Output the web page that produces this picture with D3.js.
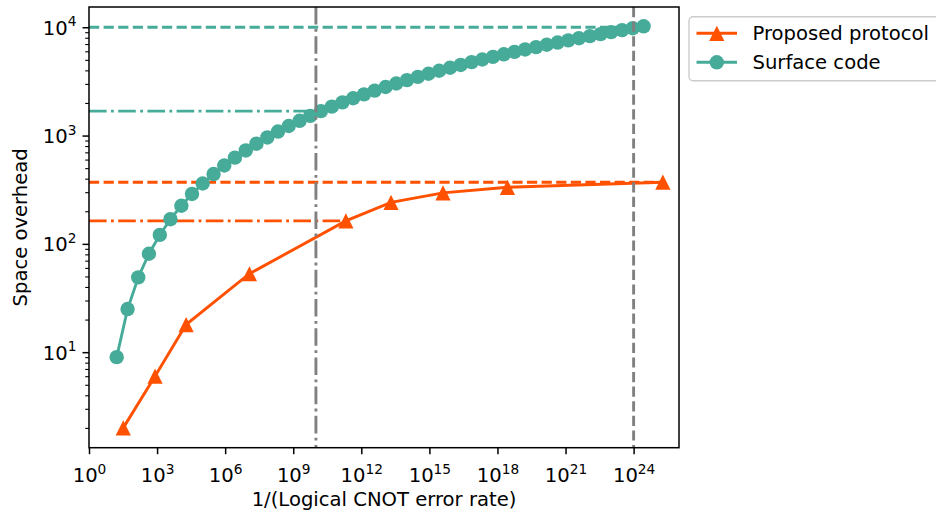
<!DOCTYPE html>
<html>
<head>
<meta charset="utf-8">
<script src="https://cdn.jsdelivr.net/npm/d3@7"></script>
<style>
  body { margin: 0; background: #fff; }
  text { font-family: "DejaVu Sans", sans-serif; fill: #000; }
</style>
</head>
<body>
<div id="chart"></div>
<script>
'use strict';

// series data (x stored as log10 of 1/(logical CNOT error rate))
const proposedLog10X = [1.51, 2.91, 4.28, 7.07, 11.32, 13.31, 15.60, 18.44, 25.29];
const proposedY = [2, 6, 18, 53, 163, 242, 296, 333, 371];

const surfaceLog10X = [
    1.22, 1.70, 2.17, 2.64, 3.12, 3.59, 4.07, 4.54, 5.01, 5.49,
    5.96, 6.43, 6.91, 7.38, 7.86, 8.33, 8.80, 9.28, 9.75, 10.22,
    10.70, 11.17, 11.64, 12.12, 12.59, 13.07, 13.54, 14.01, 14.49, 14.96,
    15.43, 15.91, 16.38, 16.86, 17.33, 17.80, 18.28, 18.75, 19.22, 19.70,
    20.17, 20.65, 21.12, 21.59, 22.07, 22.54, 23.01, 23.49, 23.96, 24.44
];
const surfaceY = [
    9, 25, 49, 81, 121, 169, 225, 289, 361, 441,
    529, 625, 729, 841, 961, 1089, 1225, 1369, 1521, 1681,
    1849, 2025, 2209, 2401, 2601, 2809, 3025, 3249, 3481, 3721,
    3969, 4225, 4489, 4761, 5041, 5329, 5625, 5929, 6241, 6561,
    6889, 7225, 7569, 7921, 8281, 8649, 9025, 9409, 9801, 10201
];

// reference lines: [y, log10 of x end, style]
const hLinesProposed = [[371, 25.29, 'dash'], [163, 11.32, 'dashdot']];
const hLinesSurface = [[10000, 24.44, 'dash'], [1681, 10, 'dashdot']];
const vLinesLog10 = [[10, 'dashdot'], [24, 'dash']];

const xTickExps = [0, 3, 6, 9, 12, 15, 18, 21, 24];
const yTickExps = [1, 2, 3, 4];

const seriesNames = ['Proposed protocol', 'Surface code'];
const colors = { proposed: '#ff5100', surface: '#46ab99', ref: '#808080' };

const width = 936, height = 513;
const margin = { left: 89, right: 257, top: 7, bottom: 65.3 };
const plotW = width - margin.left - margin.right;
const plotH = height - margin.top - margin.bottom;
const fontSize = 19.6;
const dashes = { dash: '10.2,4.4', dashdot: '17.6,4.4,2.8,4.4' };

const x = d3.scaleLog().domain([1, 1e26]).range([0, plotW]);
const y = d3.scaleLog().domain([Math.pow(10, 0.118), Math.pow(10, 4.187)]).range([plotH, 0]);

const svg = d3.select('#chart').append('svg')
    .attr('width', width)
    .attr('height', height)
    .style('display', 'block');

const g = svg.append('g')
    .attr('transform', `translate(${margin.left}, ${margin.top})`);

// clip
g.append('defs').append('clipPath')
    .attr('id', 'clip')
  .append('rect')
    .attr('width', plotW)
    .attr('height', plotH);

const inner = g.append('g').attr('clip-path', 'url(#clip)');

// horizontal reference lines
function hline(spec, color) {
    inner.append('line')
        .attr('x1', x(1))
        .attr('x2', x(Math.pow(10, spec[1])))
        .attr('y1', y(spec[0]))
        .attr('y2', y(spec[0]))
        .attr('stroke', color)
        .attr('stroke-width', 2.9)
        .attr('stroke-dasharray', dashes[spec[2]]);
}
hLinesProposed.forEach(s => hline(s, colors.proposed));
hLinesSurface.forEach(s => hline(s, colors.surface));

const toPts = (xs, ys) => xs.map((e, i) => [Math.pow(10, e), ys[i]]);
const proposedPts = toPts(proposedLog10X, proposedY);
const surfacePts = toPts(surfaceLog10X, surfaceY);

const line = d3.line().x(d => x(d[0])).y(d => y(d[1]));

// matplotlib-style '^' marker (as wide as it is tall)
const triPath = 'M0,-7.6L7.6,7.6L-7.6,7.6Z';
const circleR = 7.2;

// surface code series
inner.append('path')
    .datum(surfacePts)
    .attr('d', line)
    .attr('fill', 'none')
    .attr('stroke', colors.surface)
    .attr('stroke-width', 2.9);
inner.selectAll('circle.surface')
    .data(surfacePts)
  .enter().append('circle')
    .attr('class', 'surface')
    .attr('cx', d => x(d[0]))
    .attr('cy', d => y(d[1]))
    .attr('r', circleR)
    .attr('fill', colors.surface);

// proposed protocol series
inner.append('path')
    .datum(proposedPts)
    .attr('d', line)
    .attr('fill', 'none')
    .attr('stroke', colors.proposed)
    .attr('stroke-width', 2.9);
inner.selectAll('path.tri')
    .data(proposedPts)
  .enter().append('path')
    .attr('class', 'tri')
    .attr('d', triPath)
    .attr('transform', d => `translate(${x(d[0])}, ${y(d[1])})`)
    .attr('fill', colors.proposed);

// vertical reference lines
vLinesLog10.forEach(v => {
    inner.append('line')
        .attr('x1', x(Math.pow(10, v[0])))
        .attr('x2', x(Math.pow(10, v[0])))
        .attr('y1', 0)
        .attr('y2', plotH)
        .attr('stroke', colors.ref)
        .attr('stroke-width', 2.9)
        .attr('stroke-dasharray', dashes[v[1]]);
});

// x-axis
const xAxis = g.append('g')
    .attr('transform', `translate(0, ${plotH})`)
    .call(d3.axisBottom(x)
        .tickValues(xTickExps.map(e => Math.pow(10, e)))
        .tickSize(6.5)
        .tickPadding(6)
        .tickFormat(() => ''));
xAxis.select('.domain').remove();
xAxis.selectAll('.tick line').attr('stroke-width', 1.5);
xAxis.selectAll('.tick text')
    .data(xTickExps)
    .attr('font-size', fontSize)
    .attr('dy', '1.12em')
    .each(function(e) {
        const t = d3.select(this);
        t.append('tspan').text('10');
        t.append('tspan').attr('font-size', fontSize * 0.7).attr('dy', '-0.62em').text(e);
    });

// y-axis (major + minor)
const yMinor = [];
for (let k = 0; k <= 3; k++) for (let m = 2; m <= 9; m++) yMinor.push(m * Math.pow(10, k));
const yMinorAxis = g.append('g')
    .call(d3.axisLeft(y).tickValues(yMinor).tickSize(3.8).tickFormat(() => ''));
yMinorAxis.select('.domain').remove();
yMinorAxis.selectAll('.tick line').attr('stroke-width', 1.1);

const yAxis = g.append('g')
    .call(d3.axisLeft(y)
        .tickValues(yTickExps.map(e => Math.pow(10, e)))
        .tickSize(6.5)
        .tickPadding(6)
        .tickFormat(() => ''));
yAxis.select('.domain').remove();
yAxis.selectAll('.tick line').attr('stroke-width', 1.5);
yAxis.selectAll('.tick text')
    .data(yTickExps)
    .attr('font-size', fontSize)
    .attr('dy', '0.36em')
    .each(function(e) {
        const t = d3.select(this);
        t.append('tspan').text('10');
        t.append('tspan').attr('font-size', fontSize * 0.7).attr('dy', '-0.62em').text(e);
    });

// frame
g.append('rect')
    .attr('width', plotW)
    .attr('height', plotH)
    .attr('fill', 'none')
    .attr('stroke', '#000')
    .attr('stroke-width', 1.5);

// axis labels
g.append('text')
    .attr('x', plotW / 2)
    .attr('y', plotH + 58)
    .attr('text-anchor', 'middle')
    .attr('font-size', fontSize)
    .text('1/(Logical CNOT error rate)');

g.append('text')
    .attr('transform', `translate(${-62}, ${plotH / 2}) rotate(-90)`)
    .attr('text-anchor', 'middle')
    .attr('font-size', fontSize)
    .text('Space overhead');

// legend
const legend = svg.append('g').attr('transform', 'translate(689, 16.8)');
legend.append('rect')
    .attr('width', 250)
    .attr('height', 64)
    .attr('rx', 4)
    .attr('fill', '#fff')
    .attr('fill-opacity', 0.8)
    .attr('stroke', '#cccccc')
    .attr('stroke-width', 1.4);

const legendItems = [
    { name: seriesNames[0], color: colors.proposed, marker: 'tri' },
    { name: seriesNames[1], color: colors.surface, marker: 'circle' }
];
legendItems.forEach((it, i) => {
    const row = legend.append('g').attr('transform', `translate(0, ${16.5 + i * 29})`);
    row.append('line')
        .attr('x1', 7.5).attr('x2', 48)
        .attr('stroke', it.color)
        .attr('stroke-width', 2.9);
    if (it.marker === 'tri') {
        row.append('path').attr('d', triPath).attr('transform', 'translate(27.8, 0)').attr('fill', it.color);
    } else {
        row.append('circle').attr('cx', 27.8).attr('r', circleR).attr('fill', it.color);
    }
    row.append('text')
        .attr('x', 63.5)
        .attr('dy', '0.36em')
        .attr('font-size', fontSize)
        .text(it.name);
});
</script>
</body>
</html>
